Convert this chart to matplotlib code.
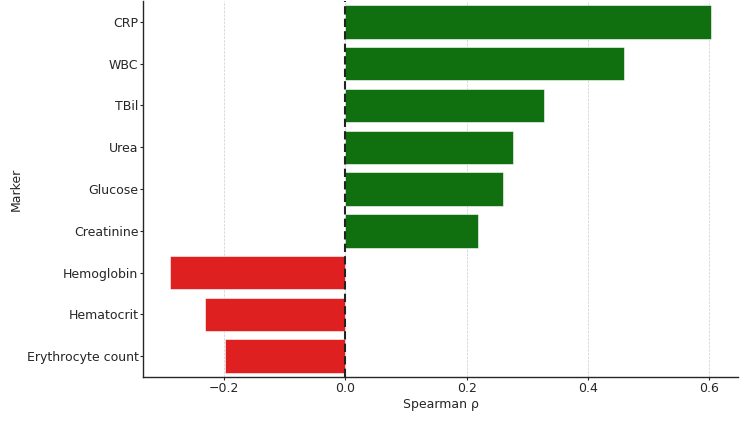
import matplotlib.pyplot as plt
import numpy as np

markers = ['CRP', 'WBC', 'TBil', 'Urea', 'Glucose', 'Creatinine',
           'Hemoglobin', 'Hematocrit', 'Erythrocyte count']
rho = [0.603, 0.459, 0.327, 0.277, 0.260, 0.219, -0.289, -0.231, -0.199]

pos_color = '#107010'
neg_color = '#df2020'
text_color = '#262626'

plt.rcParams['font.family'] = 'DejaVu Sans'
plt.rcParams['font.size'] = 9

fig = plt.figure(figsize=(7.5, 4.21), dpi=100)
ax = fig.add_axes([0.191, 0.1045, 0.793, 0.893])

y = np.arange(len(markers))
colors = [pos_color if r > 0 else neg_color for r in rho]
ax.barh(y, rho, height=0.8, color=colors, edgecolor='white', linewidth=0.4, zorder=2)

ax.axvline(0, color='#222222', linestyle=(0, (4, 2)), linewidth=1.5, zorder=3)

ax.set_yticks(y)
ax.set_yticklabels(markers)
ax.set_ylim(len(markers) - 0.5, -0.5)
ax.margins(x=0.05)

ax.set_xticks([-0.2, 0.0, 0.2, 0.4, 0.6])
ax.grid(True, axis='x', linestyle='--', linewidth=0.5, color='#cccccc', zorder=0)
ax.set_axisbelow(True)

ax.set_xlabel('Spearman ρ', color=text_color, labelpad=2)
ax.set_ylabel('Marker', color=text_color, labelpad=3)

for s in ['top', 'right']:
    ax.spines[s].set_visible(False)
for s in ['left', 'bottom']:
    ax.spines[s].set_color(text_color)
    ax.spines[s].set_linewidth(1.0)
ax.tick_params(colors=text_color, length=2.5, width=0.8, pad=1)

plt.savefig('out.png', dpi=100)
